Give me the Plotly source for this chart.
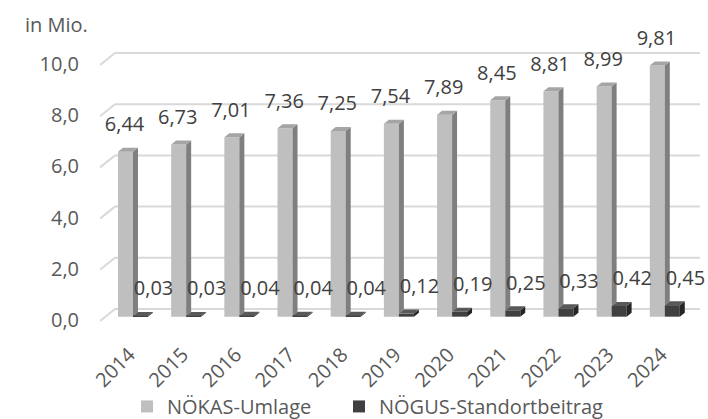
import plotly.graph_objects as go

# ---------------- data ----------------
years = ["2014", "2015", "2016", "2017", "2018", "2019", "2020", "2021", "2022", "2023", "2024"]
nokas = [6.44, 6.73, 7.01, 7.36, 7.25, 7.54, 7.89, 8.45, 8.81, 8.99, 9.81]
nogus = [0.03, 0.03, 0.04, 0.04, 0.04, 0.12, 0.19, 0.25, 0.33, 0.42, 0.45]
y_ticks = [0, 2, 4, 6, 8, 10]
y_tick_text = ["0,0", "2,0", "4,0", "6,0", "8,0", "10,0"]
series_names = ["NÖKAS-Umlage", "NÖGUS-Standortbeitrag"]

# ---------------- styling / pseudo-3D geometry ----------------
FONT = "Open Sans"
TXT = "#595959"
LBL = "#404040"
GRID = "#d9d9d9"
C1_FRONT, C1_SIDE, C1_TOP = "#bfbfbf", "#7f7f7f", "#a5a5a5"
C2_FRONT, C2_SIDE, C2_TOP = "#404040", "#262626", "#595959"

PXX, PXY = 53.18, 25.6          # pixels per x unit / y unit
FRONT = -0.3                    # front plane offset (value units)
DX, DY = 5 / PXX, 4 / PXY       # bar depth projection
W = 0.282                       # bar width
OFF1, OFF2 = 0.056, 0.338       # bar offsets within category
STUB_X, STUB_Y = 15 / PXX, 12 / PXY

idx = list(range(len(years)))


def fmt(v):
    return f"{v:.2f}".replace(".", ",")


def poly_trace(polys, color):
    xs, ys = [], []
    for p in polys:
        for (a, b) in p:
            xs.append(a)
            ys.append(b)
        xs.append(p[0][0]); ys.append(p[0][1])
        xs.append(None); ys.append(None)
    return go.Scatter(x=xs, y=ys, mode="lines", fill="toself", fillcolor=color,
                      line=dict(width=0, color=color), showlegend=False,
                      hoverinfo="skip")


fig = go.Figure()

# front faces (real bars)
fig.add_trace(go.Bar(x=idx, y=nokas, base=FRONT, offset=OFF1, width=W,
                     marker=dict(color=C1_FRONT, line=dict(width=0)),
                     name=series_names[0], legend="legend"))
fig.add_trace(go.Bar(x=idx, y=nogus, base=FRONT, offset=OFF2, width=W,
                     marker=dict(color=C2_FRONT, line=dict(width=0)),
                     name=series_names[1], legend="legend2"))

# side and top faces
side1, top1, side2, top2 = [], [], [], []
for i, v, w in zip(idx, nokas, nogus):
    xl = i + OFF1
    x0 = xl + W
    side1.append([(x0, FRONT + w), (x0, FRONT + v), (x0 + DX, FRONT + v + DY), (x0 + DX, FRONT + w + DY)])
    top1.append([(xl, FRONT + v), (x0, FRONT + v), (x0 + DX, FRONT + v + DY), (xl + DX, FRONT + v + DY)])
    xl2 = i + OFF2
    x1 = xl2 + W
    side2.append([(x1, FRONT), (x1, FRONT + w), (x1 + DX, FRONT + w + DY), (x1 + DX, FRONT + DY)])
    top2.append([(xl2, FRONT + w), (x1, FRONT + w), (x1 + DX, FRONT + w + DY), (xl2 + DX, FRONT + w + DY)])

fig.add_trace(poly_trace(side1, C1_SIDE))
fig.add_trace(poly_trace(top1, C1_TOP))
fig.add_trace(poly_trace(side2, C2_SIDE))
fig.add_trace(poly_trace(top2, C2_TOP))

# data labels
fig.add_trace(go.Scatter(x=[i + 0.18 for i in idx], y=[v + 0.7 for v in nokas],
                         text=[fmt(v) for v in nokas], mode="text",
                         textposition="middle center",
                         textfont=dict(family=FONT, size=20, color=LBL),
                         showlegend=False, hoverinfo="skip", cliponaxis=False))
fig.add_trace(go.Scatter(x=[i + 0.725 for i in idx], y=[v + 0.7 for v in nogus],
                         text=[fmt(v) for v in nogus], mode="text",
                         textposition="middle center",
                         textfont=dict(family=FONT, size=20, color=LBL),
                         showlegend=False, hoverinfo="skip", cliponaxis=False))

# back-wall gridlines with floor stubs
for t in y_ticks:
    fig.add_shape(type="path", xref="x", yref="y", layer="below",
                  path=f"M {-STUB_X} {t - STUB_Y} L 0 {t} L {len(years)} {t}",
                  line=dict(color=GRID, width=2))

legend_common = dict(orientation="h", xref="container", xanchor="left",
                     yref="container", y=0.03, yanchor="middle",
                     bgcolor="rgba(0,0,0,0)", itemwidth=30,
                     font=dict(family=FONT, size=20, color=TXT))

fig.update_layout(
    width=708, height=419,
    margin=dict(l=100, r=8, t=30, b=94, pad=0, autoexpand=False),
    paper_bgcolor="white", plot_bgcolor="white",
    barmode="overlay",
    font=dict(family=FONT, size=20, color=TXT),
    showlegend=True,
    legend=dict(x=127 / 708, **legend_common),
    legend2=dict(x=339 / 708, **legend_common),
    xaxis=dict(range=[-STUB_X, len(years)], showgrid=False, zeroline=False,
               showline=False, tickmode="array", tickvals=[i + 0.27 for i in idx],
               ticktext=years, tickangle=-45, ticks="outside", ticklen=9,
               tickcolor="rgba(0,0,0,0)", automargin=False,
               tickfont=dict(family=FONT, size=20, color=TXT)),
    yaxis=dict(range=[-0.625, 10.898], showgrid=False, zeroline=False, showline=False,
               tickmode="array", tickvals=y_ticks, ticktext=y_tick_text,
               ticks="outside", ticklen=16, tickcolor="rgba(0,0,0,0)",
               ticklabelshift=11, automargin=False,
               tickfont=dict(family=FONT, size=20, color=TXT)),
    annotations=[dict(text="in Mio.", xref="paper", yref="paper",
                      x=-0.128, y=1.017, xanchor="left", yanchor="middle",
                      showarrow=False, font=dict(family=FONT, size=20, color=TXT))],
)

fig.write_html("out.html", config={"displayModeBar": False},
               post_script="document.body.style.margin='0';")
